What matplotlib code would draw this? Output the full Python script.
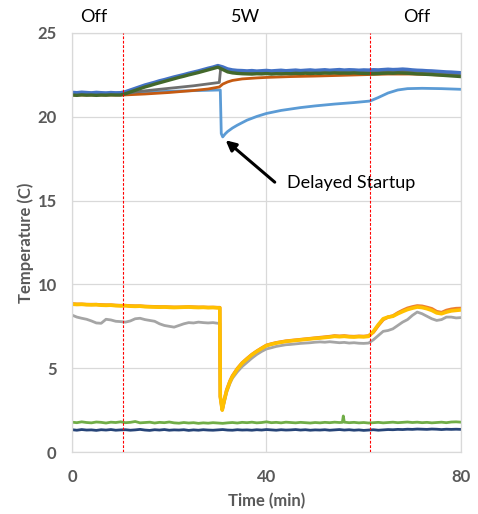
import numpy as np
import matplotlib
matplotlib.use("Agg")
import matplotlib.pyplot as plt

plt.rcParams['font.family'] = ['Lato', 'DejaVu Sans']

# sample times (min)
minutes = np.arange(0, 81)
step_t = [*range(31), 30.4, 30.5, 30.9, 31.3, 31.8, 32.5, *range(33, 81)]

# upper thermocouples (C)
blue = [21.46, 21.44, 21.47, 21.45, 21.43, 21.46, 21.44, 21.42, 21.45, 21.43,
        21.44, 21.50, 21.60, 21.70, 21.80, 21.90, 21.98, 22.06, 22.15, 22.22,
        22.30, 22.38, 22.45, 22.52, 22.60, 22.67, 22.74, 22.82, 22.90, 22.97,
        23.06, 22.98, 22.86, 22.80, 22.77, 22.76, 22.74, 22.76, 22.73, 22.75,
        22.77, 22.74, 22.76, 22.78, 22.75, 22.77, 22.79, 22.76, 22.78, 22.80,
        22.77, 22.79, 22.81, 22.78, 22.80, 22.82, 22.79, 22.81, 22.80, 22.78,
        22.80, 22.79, 22.81, 22.80, 22.82, 22.84, 22.82, 22.83, 22.85, 22.83,
        22.80, 22.78, 22.77, 22.75, 22.74, 22.72, 22.70, 22.68, 22.67, 22.65,
        22.63]
green_dk = [21.30, 21.28, 21.31, 21.29, 21.30, 21.28, 21.30, 21.29, 21.31, 21.30,
            21.30, 21.38, 21.48, 21.58, 21.68, 21.78, 21.86, 21.95, 22.03, 22.11,
            22.19, 22.27, 22.35, 22.42, 22.50, 22.57, 22.64, 22.72, 22.80, 22.88,
            22.96, 22.82, 22.68, 22.62, 22.59, 22.57, 22.56, 22.55, 22.57, 22.56,
            22.58, 22.55, 22.57, 22.56, 22.58, 22.57, 22.59, 22.58, 22.60, 22.58,
            22.60, 22.59, 22.61, 22.60, 22.62, 22.60, 22.61, 22.60, 22.62, 22.60,
            22.59, 22.58, 22.57, 22.58, 22.60, 22.61, 22.60, 22.62, 22.61, 22.60,
            22.58, 22.56, 22.55, 22.53, 22.52, 22.50, 22.48, 22.46, 22.44, 22.42,
            22.40]
grey_dk_t = [0, 5, 10.5, 15, 20, 25, 30.3, 30.6, 31, 32, 33, 35, 40, 45, 50, 55, 61, 65, 70, 75, 80]
grey_dk = [21.38, 21.37, 21.38, 21.55, 21.70, 21.85, 22.05, 22.95, 22.90, 22.78, 22.72,
           22.68, 22.66, 22.67, 22.68, 22.70, 22.70, 22.72, 22.72, 22.65, 22.55]
brown_t = [0, 5, 10.5, 15, 20, 25, 28, 30.3, 31, 32, 33, 35, 38, 40, 45, 50, 55, 61, 65, 70, 75, 80]
brown = [21.30, 21.30, 21.30, 21.36, 21.45, 21.57, 21.66, 21.78, 21.95, 22.08, 22.17,
         22.26, 22.32, 22.35, 22.40, 22.43, 22.47, 22.52, 22.55, 22.55, 22.50, 22.45]
ltblue_t = [0, 5, 10.5, 15, 20, 25, 30.5, 30.7, 31.0, 31.5, 32, 33, 34, 36, 38, 40, 43,
            47, 50, 54, 58, 61.3, 63, 65, 67, 69, 72, 76, 80]
ltblue = [21.42, 21.42, 21.43, 21.47, 21.52, 21.56, 21.60, 19.00, 18.80, 18.98, 19.12,
          19.33, 19.50, 19.80, 20.02, 20.20, 20.38, 20.55, 20.65, 20.76, 20.85, 20.94,
          21.15, 21.42, 21.60, 21.68, 21.70, 21.68, 21.64]

# lower thermocouples (C)
gold = [8.82, 8.80, 8.81, 8.79, 8.78, 8.79, 8.76, 8.75, 8.76, 8.73,
        8.72, 8.73, 8.70, 8.69, 8.70, 8.67, 8.66, 8.65, 8.64, 8.65,
        8.63, 8.62, 8.63, 8.64, 8.65, 8.63, 8.62, 8.63, 8.61, 8.62, 8.60,
        8.60, 3.30, 2.50, 3.05, 3.65, 4.20,
        4.50, 4.95, 5.30, 5.55, 5.80, 6.00, 6.18, 6.35, 6.43, 6.50,
        6.55, 6.60, 6.63, 6.66, 6.69, 6.72, 6.75, 6.78, 6.80, 6.83,
        6.86, 6.90, 6.88, 6.90, 6.87, 6.86, 6.88, 6.87, 6.90, 7.20,
        7.60, 7.95, 8.05, 8.10, 8.25, 8.38, 8.50, 8.58, 8.65, 8.62,
        8.55, 8.45, 8.30, 8.25, 8.35, 8.42, 8.45, 8.48]
orange = [8.84, 8.82, 8.82, 8.80, 8.80, 8.80, 8.78, 8.77, 8.77, 8.75,
          8.74, 8.74, 8.72, 8.71, 8.71, 8.69, 8.68, 8.67, 8.66, 8.66,
          8.65, 8.64, 8.64, 8.65, 8.66, 8.65, 8.64, 8.64, 8.63, 8.63, 8.62,
          8.62, 3.30, 2.52, 3.10, 3.70, 4.25,
          4.55, 4.98, 5.32, 5.58, 5.82, 6.02, 6.20, 6.37, 6.45, 6.52,
          6.57, 6.62, 6.65, 6.68, 6.71, 6.74, 6.77, 6.80, 6.83, 6.86,
          6.89, 6.93, 6.91, 6.93, 6.90, 6.89, 6.91, 6.90, 6.93, 7.15,
          7.55, 7.90, 8.05, 8.12, 8.30, 8.45, 8.58, 8.66, 8.72, 8.70,
          8.63, 8.55, 8.38, 8.32, 8.45, 8.52, 8.56, 8.57]
grey_lt = [8.17, 8.05, 7.98, 7.92, 7.82, 7.70, 7.68, 7.92, 7.88, 7.80,
           7.78, 7.75, 7.82, 7.95, 7.98, 7.90, 7.85, 7.80, 7.65, 7.55,
           7.50, 7.45, 7.55, 7.65, 7.72, 7.70, 7.75, 7.72, 7.70, 7.72, 7.68,
           7.68, 3.30, 2.50, 2.95, 3.55, 4.10,
           4.40, 4.78, 5.10, 5.35, 5.60, 5.82, 6.00, 6.15, 6.22, 6.30,
           6.35, 6.40, 6.42, 6.45, 6.48, 6.50, 6.52, 6.55, 6.57, 6.55,
           6.58, 6.55, 6.52, 6.54, 6.50, 6.52, 6.49, 6.48, 6.50, 6.70,
           6.95, 7.20, 7.25, 7.35, 7.55, 7.75, 7.90, 8.15, 8.35, 8.25,
           8.10, 7.95, 7.85, 7.90, 8.05, 8.05, 8.00, 8.02]
green_t = [*range(56), 55.6, 55.8, 56.0, *range(57, 81)]
green_lt = [1.78, 1.75, 1.80, 1.76, 1.74, 1.79, 1.77, 1.73, 1.78, 1.76,
            1.80, 1.75, 1.77, 1.82, 1.74, 1.76, 1.78, 1.73, 1.77, 1.75,
            1.79, 1.74, 1.72, 1.76, 1.73, 1.75, 1.71, 1.74, 1.72, 1.75,
            1.73, 1.71, 1.74, 1.76, 1.73, 1.77, 1.75, 1.78, 1.74, 1.76,
            1.80, 1.75, 1.77, 1.74, 1.78, 1.76, 1.74, 1.77, 1.75, 1.73,
            1.76, 1.74, 1.77, 1.75, 1.78, 1.76,
            1.77, 2.15, 1.78,
            1.75, 1.77, 1.74, 1.76, 1.73, 1.75, 1.77, 1.74, 1.76, 1.78,
            1.75, 1.77, 1.79, 1.76, 1.78, 1.75, 1.77, 1.74, 1.76, 1.78,
            1.75, 1.79, 1.80, 1.78]
navy = [1.33, 1.30, 1.34, 1.31, 1.32, 1.29, 1.33, 1.31, 1.34, 1.30,
        1.32, 1.33, 1.30, 1.32, 1.35, 1.31, 1.29, 1.33, 1.31, 1.34,
        1.30, 1.32, 1.31, 1.33, 1.29, 1.32, 1.30, 1.33, 1.31, 1.30,
        1.32, 1.34, 1.31, 1.30, 1.33, 1.31, 1.32, 1.30, 1.33, 1.31,
        1.34, 1.32, 1.30, 1.33, 1.31, 1.32, 1.34, 1.31, 1.33, 1.30,
        1.32, 1.31, 1.33, 1.30, 1.32, 1.34, 1.31, 1.33, 1.30, 1.32,
        1.29, 1.31, 1.33, 1.30, 1.32, 1.34, 1.33, 1.35, 1.34, 1.36,
        1.35, 1.37, 1.36, 1.35, 1.37, 1.36, 1.34, 1.36, 1.35, 1.36,
        1.35]

phase_edges = [10.5, 61.3]
phase_labels = ["Off", "5W", "Off"]
phase_label_x = [4.5, 35.6, 70.9]

fig = plt.figure(figsize=(4.78, 5.14), dpi=100)
ax = fig.add_axes([0.1506, 0.1206, 0.8138, 0.8152])

lw = 2.0
ax.plot(ltblue_t, ltblue, color='#5B9BD5', lw=lw)
ax.plot(brown_t, brown, color='#C55A11', lw=lw)
ax.plot(grey_dk_t, grey_dk, color='#6F6F6F', lw=lw)
ax.plot(minutes, blue, color='#4472C4', lw=lw + 0.4)
ax.plot(minutes, green_dk, color='#43682B', lw=lw + 0.4)

ax.plot(step_t, grey_lt, color='#A5A5A5', lw=lw)
ax.plot(step_t, orange, color='#ED7D31', lw=lw + 0.4)
ax.plot(step_t, gold, color='#FFC000', lw=lw + 0.6)
ax.plot(green_t, green_lt, color='#70AD47', lw=lw)
ax.plot(minutes, navy, color='#264478', lw=lw)

for xe in phase_edges:
    ax.axvline(xe, color='#FF0000', lw=0.8, ls=(0, (2.5, 1.5)), zorder=3)

for lab, xl in zip(phase_labels, phase_label_x):
    ax.text(xl, 25.97, lab, ha='center', va='center', fontsize=13, color='black', clip_on=False)

ax.annotate('', xy=(31.6, 18.6), xytext=(41.7, 16.1),
            arrowprops=dict(arrowstyle='-|>', color='black', lw=2.2, mutation_scale=15,
                            shrinkA=0, shrinkB=0))
ax.text(44.3, 16.07, "Delayed Startup", ha='left', va='center', fontsize=13, color='black')

ax.set_xlim(0, 80)
ax.set_ylim(0, 25)
ax.set_xticks([0, 40, 80])
ax.set_yticks([0, 5, 10, 15, 20, 25])
ax.grid(True, color='#D9D9D9', lw=0.9)
ax.set_axisbelow(True)
for s in ax.spines.values():
    s.set_color('#D9D9D9')
    s.set_linewidth(0.9)
ax.tick_params(length=0, labelsize=12, labelcolor='#595959')
ax.tick_params(axis='x', pad=12)
ax.tick_params(axis='y', pad=11)
for t in ax.get_xticklabels() + ax.get_yticklabels():
    t.set_fontweight('bold')

ax.set_xlabel("Time (min)", fontsize=12, fontweight='bold', color='#595959')
ax.set_ylabel("Temperature (C)", fontsize=12, fontweight='bold', color='#595959')
ax.xaxis.set_label_coords(0.5, -0.098)
ax.yaxis.set_label_coords(-0.098, 0.5)

fig.savefig("out.png", dpi=100)
